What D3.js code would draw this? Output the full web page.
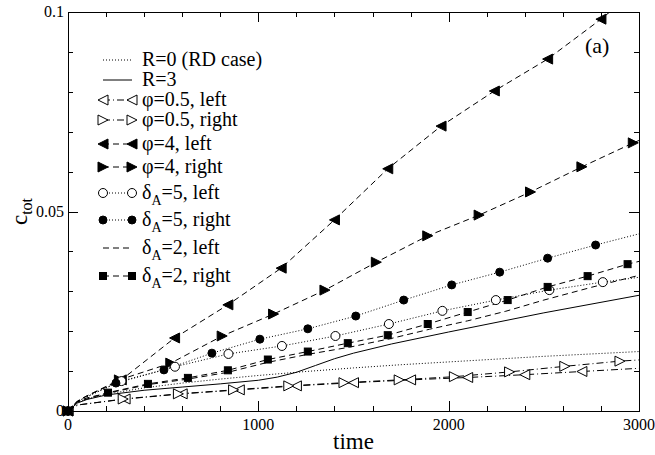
<!DOCTYPE html>
<html>
<head>
<meta charset="utf-8">
<script src="https://cdn.jsdelivr.net/npm/d3@7"></script>
<style>
  html, body { margin: 0; padding: 0; background: #fff; }
  svg { display: block; }
</style>
</head>
<body>
<svg id="chart" width="655" height="455" font-family="'Liberation Serif', 'Times New Roman', Times, serif"></svg>
<script>
// ---- data: c_tot versus time ----
const xTicks = [0, 1000, 2000, 3000];
const yTicks = [0, 0.05, 0.1];
const yTickLabels = ["0", "0.05", "0.1"];

// R=0 (RD case)
const r0T = [0, 50, 100, 200, 400, 600, 800, 1000, 1250, 1500, 1750, 2000, 2250, 2500, 2750, 3000];
const r0C = [0, 0.0022, 0.0030, 0.0042, 0.0058, 0.0070, 0.0080, 0.0089, 0.0099, 0.0108, 0.0116, 0.0123, 0.0130, 0.0137, 0.0143, 0.0149];

// R=3
const r3T = [0, 50, 100, 200, 400, 600, 800, 1000, 1100, 1200, 1300, 1400, 1500, 1700, 2000, 2500, 3000];
const r3C = [0, 0.0020, 0.0029, 0.0040, 0.0052, 0.0060, 0.0068, 0.0077, 0.0085, 0.0097, 0.0114, 0.0131, 0.0145, 0.0168, 0.0198, 0.0246, 0.0290];

// phi=0.5, left
const p05lT = [0, 50, 300, 600, 900, 1200, 1500, 1800, 2100, 2400, 2700, 3000];
const p05lC = [0, 0.0015, 0.0030, 0.0043, 0.0053, 0.0063, 0.0071, 0.0078, 0.0084, 0.0091, 0.0099, 0.0107];

// phi=0.5, right
const p05rT = [0, 50, 290, 580, 870, 1160, 1450, 1740, 2030, 2320, 2610, 2900, 3000];
const p05rC = [0, 0.0015, 0.0030, 0.0043, 0.0053, 0.0063, 0.0071, 0.0078, 0.0086, 0.0098, 0.0112, 0.0125, 0.0128];

// phi=4, left
const p4lT = [0, 50, 100, 280, 560, 840, 1120, 1400, 1680, 1960, 2240, 2520, 2800, 3000];
const p4lC = [0, 0.0025, 0.0038, 0.0078, 0.0183, 0.0266, 0.0358, 0.0479, 0.0607, 0.0714, 0.0802, 0.0882, 0.0982, 0.1060];

// phi=4, right
const p4rT = [0, 50, 100, 270, 540, 810, 1080, 1350, 1620, 1890, 2160, 2430, 2700, 2970, 3000];
const p4rC = [0, 0.0025, 0.0038, 0.0078, 0.0120, 0.0188, 0.0243, 0.0303, 0.0373, 0.0439, 0.0491, 0.0549, 0.0612, 0.0672, 0.0678];

// delta_A=5, left
const d5lT = [0, 50, 100, 281, 562, 843, 1124, 1405, 1686, 1967, 2248, 2529, 2810, 3000];
const d5lC = [0, 0.0024, 0.0036, 0.0075, 0.0111, 0.0143, 0.0163, 0.0188, 0.0218, 0.0251, 0.0278, 0.0303, 0.0323, 0.0335];

// delta_A=5, right
const d5rT = [0, 50, 100, 252, 504, 756, 1008, 1260, 1512, 1764, 2016, 2268, 2520, 2772, 3000];
const d5rC = [0, 0.0024, 0.0036, 0.0070, 0.0103, 0.0145, 0.0180, 0.0206, 0.0238, 0.0278, 0.0316, 0.0348, 0.0383, 0.0416, 0.0444];

// delta_A=2, left
const d2lT = [0, 50, 100, 210, 420, 630, 840, 1050, 1260, 1480, 1700, 1900, 2100, 2300, 2500, 2750, 3000];
const d2lC = [0, 0.0023, 0.0033, 0.0045, 0.0066, 0.0080, 0.0097, 0.0122, 0.0142, 0.0160, 0.0182, 0.0205, 0.0226, 0.0250, 0.0278, 0.0310, 0.0340];

// delta_A=2, right
const d2rT = [0, 50, 210, 420, 630, 840, 1050, 1260, 1470, 1680, 1890, 2100, 2310, 2520, 2730, 2940, 3000];
const d2rC = [0, 0.0023, 0.0046, 0.0068, 0.0083, 0.0102, 0.0129, 0.0149, 0.0170, 0.0190, 0.0218, 0.0248, 0.0278, 0.0311, 0.0338, 0.0368, 0.0375];

// symbols sit on the origin point and on samples symFrom..symTo;
// the other samples are plain line points
const series = [
  { name: "R=0 (RD case)", t: r0T, c: r0C, dash: "1,2", sym: null },
  { name: "R=3", t: r3T, c: r3C, dash: null, sym: null },
  { name: "φ=0.5, left", t: p05lT, c: p05lC, dash: "7,3,1,3", sym: "triL", fill: false, symFrom: 2, symTo: 10 },
  { name: "φ=0.5, right", t: p05rT, c: p05rC, dash: "7,3,1,3", sym: "triR", fill: false, symFrom: 2, symTo: 11 },
  { name: "φ=4, left", t: p4lT, c: p4lC, dash: "6,4", sym: "triL", fill: true, symFrom: 3, symTo: 12 },
  { name: "φ=4, right", t: p4rT, c: p4rC, dash: "6,4", sym: "triR", fill: true, symFrom: 3, symTo: 13 },
  { name: "δA=5, left", sub: true, t: d5lT, c: d5lC, dash: "1,2", sym: "circle", fill: false, symFrom: 3, symTo: 12 },
  { name: "δA=5, right", sub: true, t: d5rT, c: d5rC, dash: "1,2", sym: "circle", fill: true, symFrom: 3, symTo: 13 },
  { name: "δA=2, left", sub: true, t: d2lT, c: d2lC, dash: "6,4", sym: null },
  { name: "δA=2, right", sub: true, t: d2rT, c: d2rC, dash: "6,4", sym: "square", fill: true, symFrom: 2, symTo: 15 }
];

// ---- layout ----
const svg = d3.select("#chart");
const m = { left: 68, right: 639, top: 12, bottom: 411 };
const x = d3.scaleLinear().domain([0, 3000]).range([m.left, m.right]);
const y = d3.scaleLinear().domain([0, 0.1]).range([m.bottom, m.top]);

svg.append("defs").append("clipPath").attr("id", "plotClip")
  .append("rect")
  .attr("x", m.left).attr("y", m.top)
  .attr("width", m.right - m.left).attr("height", m.bottom - m.top);

// symbol painter
function drawSymbol(g, kind, cx, cy, filled) {
  const fill = filled ? "#000" : "#fff";
  if (kind === "triL") {
    g.append("path").attr("d", `M${cx - 5},${cy} L${cx + 5},${cy - 5} L${cx + 5},${cy + 5} Z`)
      .attr("fill", fill).attr("stroke", "#000").attr("stroke-width", 1);
  } else if (kind === "triR") {
    g.append("path").attr("d", `M${cx + 5},${cy} L${cx - 5},${cy - 5} L${cx - 5},${cy + 5} Z`)
      .attr("fill", fill).attr("stroke", "#000").attr("stroke-width", 1);
  } else if (kind === "circle") {
    g.append("circle").attr("cx", cx).attr("cy", cy).attr("r", filled ? 4 : 4.5)
      .attr("fill", fill).attr("stroke", "#000").attr("stroke-width", 1);
  } else if (kind === "square") {
    g.append("rect").attr("x", cx - 3.5).attr("y", cy - 3.5).attr("width", 7).attr("height", 7)
      .attr("fill", fill).attr("stroke", "#000").attr("stroke-width", 1);
  }
}

// ---- curves ----
const plot = svg.append("g").attr("clip-path", "url(#plotClip)");
const line = d3.line().x(d => x(d[0])).y(d => y(d[1]));
series.forEach(s => {
  const pts = s.t.map((t, i) => [t, s.c[i]]);
  const p = plot.append("path").attr("d", line(pts))
    .attr("fill", "none").attr("stroke", "#000").attr("stroke-width", 1);
  if (s.dash) p.attr("stroke-dasharray", s.dash);
});
const marks = svg.append("g");
series.forEach(s => {
  if (!s.sym) return;
  const idx = [0].concat(d3.range(s.symFrom, Math.min(s.symTo, s.t.length - 1) + 1));
  idx.forEach(i => {
    if (s.c[i] <= 0.1) drawSymbol(marks, s.sym, x(s.t[i]), y(s.c[i]), s.fill);
  });
});

// ---- frame and ticks (inward, on all four sides) ----
const axes = svg.append("g").attr("stroke", "#000").attr("stroke-width", 1);
axes.append("rect").attr("x", m.left + 0.5).attr("y", m.top + 0.5)
  .attr("width", m.right - m.left).attr("height", m.bottom - m.top).attr("fill", "none");

const xMinor = d3.range(0, 3001, 200);
const yMinor = d3.range(0, 11).map(k => k / 100);
xMinor.forEach(v => {
  const major = v % 1000 === 0;
  const len = major ? 10 : 5;
  const px = Math.round(x(v)) + 0.5;
  axes.append("line").attr("x1", px).attr("x2", px).attr("y1", m.bottom).attr("y2", m.bottom - len);
  axes.append("line").attr("x1", px).attr("x2", px).attr("y1", m.top).attr("y2", m.top + len);
});
yMinor.forEach((v, k) => {
  const major = k % 5 === 0;
  const len = major ? 10 : 5;
  const py = Math.round(y(v)) + 0.5;
  axes.append("line").attr("x1", m.left).attr("x2", m.left + len).attr("y1", py).attr("y2", py);
  axes.append("line").attr("x1", m.right).attr("x2", m.right - len).attr("y1", py).attr("y2", py);
});

// tick labels
xTicks.forEach(v => {
  svg.append("text").attr("x", x(v)).attr("y", m.bottom + 19)
    .attr("text-anchor", "middle").attr("font-size", 16).text(String(v));
});
yTicks.forEach((v, i) => {
  svg.append("text").attr("x", m.left - 4).attr("y", y(v) + 5)
    .attr("text-anchor", "end").attr("font-size", 16).text(yTickLabels[i]);
});

// axis titles
svg.append("text").attr("x", (m.left + m.right) / 2).attr("y", 449)
  .attr("text-anchor", "middle").attr("font-size", 23).text("time");
const yl = svg.append("text")
  .attr("transform", `translate(27,${(m.top + m.bottom) / 2}) rotate(-90)`)
  .attr("text-anchor", "middle").attr("font-size", 23);
yl.append("tspan").text("c");
yl.append("tspan").attr("font-size", 16).attr("dy", 5).text("tot");

// panel label
svg.append("text").attr("x", 585).attr("y", 53).attr("font-size", 22).text("(a)");

// ---- legend ----
const legendY = [60, 80, 100, 120, 144, 167, 193, 220, 248, 276];
const lx1 = 103, lx2 = 132, tx = 142;
series.forEach((s, i) => {
  const ly = legendY[i];
  const g = svg.append("g");
  const l = g.append("line").attr("x1", lx1).attr("x2", lx2).attr("y1", ly).attr("y2", ly)
    .attr("stroke", "#000").attr("stroke-width", 1);
  if (s.dash) l.attr("stroke-dasharray", s.dash);
  if (s.sym) {
    drawSymbol(g, s.sym, lx1, ly, s.fill);
    drawSymbol(g, s.sym, lx2, ly, s.fill);
  }
  const t = g.append("text").attr("x", tx).attr("y", ly + 6).attr("font-size", 20);
  if (s.sub) {
    // "δA=5, left" -> δ with subscript A
    t.append("tspan").text("δ");
    t.append("tspan").attr("font-size", 14).attr("dy", 6).text("A");
    t.append("tspan").attr("dy", -6).text(s.name.slice(2));
  } else {
    t.text(s.name);
  }
});
</script>
</body>
</html>
